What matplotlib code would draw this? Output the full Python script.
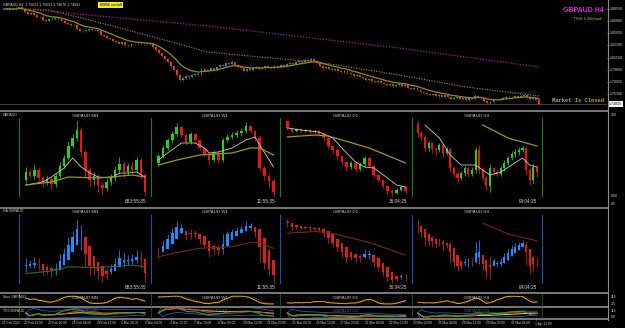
import numpy as np
import pandas as pd
import matplotlib
matplotlib.use("Agg")
import matplotlib.pyplot as plt

plt.rcParams['font.family'] = ['Liberation Sans', 'DejaVu Sans']

# ---------------- main H4 chart data ----------------
main_open0 = 1.8850
main_close = [
 1.8855, 1.8863, 1.8848, 1.8855, 1.8870, 1.8877, 1.8855, 1.8812, 1.8783, 1.8798, 1.8769, 1.8740, 1.8747, 1.8697, 1.8682, 1.8704, 1.8711, 1.8726, 1.8704, 1.8682,
 1.8654, 1.8639, 1.8618, 1.8625, 1.8567, 1.8538, 1.8531, 1.8546, 1.8560, 1.8546, 1.8553, 1.8538, 1.8481, 1.8459, 1.8437, 1.8423, 1.8394, 1.8380, 1.8358, 1.8373,
 1.8337, 1.8322, 1.8351, 1.8344, 1.8351, 1.8358, 1.8344, 1.8351, 1.8358, 1.8308, 1.8264, 1.8221, 1.8178, 1.8135, 1.8092, 1.8034, 1.7976, 1.7904, 1.7832, 1.7861,
 1.7890, 1.7875, 1.7904, 1.7919, 1.7904, 1.7991, 1.7962, 1.7976, 1.8005, 1.7976, 1.8020, 1.8048, 1.8034, 1.8077, 1.8063, 1.8092, 1.8048, 1.8020, 1.8005, 1.7962,
 1.7991, 1.7976, 1.8005, 1.8020, 1.7991, 1.8005, 1.8034, 1.8020, 1.8005, 1.8034, 1.8020, 1.8048, 1.8034, 1.8063, 1.8077, 1.8063, 1.8092, 1.8106, 1.8092, 1.8120,
 1.8106, 1.8135, 1.8106, 1.8077, 1.8034, 1.8005, 1.8020, 1.7991, 1.7976, 1.7991, 1.7962, 1.7948, 1.7962, 1.7933, 1.7919, 1.7890, 1.7904, 1.7875, 1.7861, 1.7832,
 1.7847, 1.7818, 1.7803, 1.7818, 1.7789, 1.7775, 1.7760, 1.7775, 1.7746, 1.7760, 1.7775, 1.7746, 1.7760, 1.7717, 1.7703, 1.7717, 1.7688, 1.7659, 1.7645, 1.7631,
 1.7616, 1.7623, 1.7602, 1.7616, 1.7594, 1.7609, 1.7587, 1.7558, 1.7573, 1.7580, 1.7558, 1.7573, 1.7544, 1.7566, 1.7558, 1.7602, 1.7587, 1.7573, 1.7530, 1.7501,
 1.7515, 1.7544, 1.7537, 1.7558, 1.7573, 1.7587, 1.7594, 1.7587, 1.7602, 1.7587, 1.7602, 1.7609, 1.7587, 1.7558, 1.7573, 1.7544, 1.7483]
main_wick_up = [
 12, 8, 15, 10, 22, 9, 14, 10, 18, 12, 9, 16, 11, 20, 8, 13, 25, 10, 12, 9,
 14, 11, 8, 17, 12, 10, 15, 9, 13, 11, 16, 10, 12, 8, 14, 19, 10, 13, 9, 12,
 11, 15, 8, 10, 13, 9, 12, 14, 10, 16, 12, 18, 10, 14, 20, 12, 16, 22, 15, 30,
 18, 12, 20, 14, 10, 24, 15, 12, 18, 13, 16, 11, 20, 14, 12, 26, 10, 15, 12, 18,
 11, 14, 16, 10, 13, 18, 12, 9, 15, 11, 14, 10, 16, 12, 9, 13, 15, 11, 18, 12,
 14, 20, 10, 13, 9, 15, 12, 10, 14, 11, 16, 9, 12, 13, 10, 15, 11, 14, 9, 12,
 10, 16, 11, 13, 9, 14, 12, 10, 15, 11, 13, 9, 12, 10, 14, 11, 9, 13, 12, 10,
 15, 11, 9, 14, 12, 10, 13, 16, 11, 9, 14, 12, 10, 15, 11, 30, 13, 10, 12, 9,
 14, 11, 13, 10, 12, 9, 28, 11, 14, 10, 12, 13, 9, 11, 10, 12, 9]
main_wick_dn = [
 10, 14, 9, 12, 8, 16, 11, 20, 12, 9, 15, 10, 13, 11, 18, 9, 12, 10, 14, 16,
 11, 9, 13, 10, 18, 12, 9, 14, 11, 10, 13, 8, 15, 12, 10, 11, 14, 9, 12, 16,
 10, 12, 9, 14, 11, 10, 13, 9, 15, 12, 18, 14, 20, 16, 12, 22, 18, 25, 35, 20,
 15, 22, 12, 18, 14, 12, 16, 10, 13, 15, 11, 14, 12, 10, 16, 12, 14, 11, 18, 13,
 10, 15, 12, 14, 11, 9, 13, 16, 10, 12, 14, 11, 9, 13, 10, 15, 12, 11, 14, 10,
 12, 9, 15, 18, 14, 11, 16, 12, 13, 10, 14, 12, 11, 15, 10, 13, 12, 14, 11, 15,
 12, 10, 14, 16, 11, 13, 10, 15, 12, 14, 11, 16, 13, 12, 15, 10, 14, 12, 18, 13,
 11, 15, 12, 14, 10, 16, 12, 11, 13, 15, 10, 14, 12, 16, 11, 13, 10, 14, 22, 18,
 12, 15, 11, 13, 10, 14, 12, 11, 13, 10, 15, 12, 14, 11, 13, 12, 15]
ma50_idx = [7, 15, 32, 48, 67, 84, 103, 130, 152, 176]
ma50_val = [1.8855, 1.8841, 1.8654, 1.8466, 1.8236, 1.8164, 1.8092, 1.7904, 1.7731, 1.7602]
ma200_idx = [10, 67, 130, 176]
ma200_val = [1.8841, 1.8610, 1.8293, 1.8020]
price_ticks = [1.8855, 1.8680, 1.8505, 1.8330, 1.8155, 1.7980, 1.7805, 1.7630]
date_idx = [0, 7, 15, 23, 31, 39, 47, 55, 63, 71, 79, 87, 95, 103, 111, 119, 127, 135, 143, 151, 159, 167, 175]
date_labels = ["21 Feb 2022", "22 Feb 12:00", "23 Feb 20:00", "25 Feb 04:00", "28 Feb 12:00", "1 Mar 20:00",
               "3 Mar 04:00", "4 Mar 12:00", "7 Mar 20:00", "9 Mar 04:00", "10 Mar 12:00", "11 Mar 20:00",
               "15 Mar 04:00", "16 Mar 12:00", "17 Mar 20:00", "21 Mar 04:00", "22 Mar 12:00", "23 Mar 20:00",
               "25 Mar 04:00", "28 Mar 12:00", "29 Mar 20:00", "31 Mar 04:00", "1 Apr 12:00"]

# ---------------- multi-timeframe sub-windows ----------------
tf_names = ["GBPAUD MN", "GBPAUD W1", "GBPAUD D1", "GBPAUD H4"]
tf_timers = ["683:55:35", "11:55:35", "36:04:25", "04:04:25"]

mn_open0 = 27
mn_close = [35, 31, 37, 29, 25, 28, 23, 31, 41, 49, 61, 69, 77, 55, 37, 27, 31, 22, 19, 25, 29, 37, 43, 35, 41, 37, 47, 32, 15]
mn_high = [40, 38, 42, 40, 31, 32, 30, 34, 45, 52, 66, 73, 86, 80, 57, 40, 35, 33, 25, 28, 33, 41, 50, 46, 44, 45, 50, 49, 34]
mn_low = [24, 29, 28, 26, 20, 22, 18, 20, 29, 39, 47, 59, 66, 50, 30, 20, 22, 15, 12, 16, 22, 26, 34, 30, 32, 33, 34, 28, 11]
mn_fast_idx = [0, 4, 6, 9, 11, 13, 15, 17, 20, 22, 24, 26, 28]
mn_fast_val = [22, 25, 30, 39, 49, 40, 34, 30, 29, 34, 34, 35, 30]
mn_slow_idx = [0, 6, 10, 17, 25, 28]
mn_slow_val = [22, 25, 30, 29, 32, 30]

w1_open0 = 44
w1_close = [51, 59, 67, 73, 80, 72, 65, 73, 67, 59, 53, 47, 54, 47, 67, 70, 72, 74, 76, 81, 76, 69, 39, 31, 26, 15]
w1_high = [53, 62, 69, 76, 84, 81, 73, 75, 74, 68, 60, 55, 57, 56, 69, 73, 75, 77, 79, 85, 82, 77, 72, 42, 33, 29]
w1_low = [41, 49, 57, 64, 71, 70, 62, 63, 64, 57, 51, 42, 45, 44, 45, 65, 68, 69, 71, 74, 74, 66, 36, 27, 20, 11]
w1_fast_idx = [0, 2, 5, 8, 10, 11, 13, 16, 19, 21, 22, 25]
w1_fast_val = [47, 54, 64, 64, 59, 54, 55, 59, 67, 70, 62, 40]
w1_slow_idx = [0, 4, 9, 16, 20, 22, 25]
w1_slow_val = [42, 47, 52, 54, 59, 59, 52]

d1_open0 = 86
d1_close = [79, 76, 78, 76, 77, 75, 76, 73, 69, 61, 57, 51, 45, 40, 44, 38, 43, 49, 41, 32, 27, 21, 16, 14, 17, 20, 16]
d1_high = [87, 80, 79, 79, 78, 78, 77, 77, 74, 70, 62, 58, 52, 46, 46, 45, 45, 51, 50, 42, 33, 28, 22, 18, 19, 22, 21]
d1_low = [77, 74, 75, 74, 75, 73, 74, 71, 66, 58, 53, 48, 42, 36, 38, 35, 36, 40, 39, 30, 25, 19, 13, 11, 13, 16, 13]
d1_fast_idx = [0, 3, 7, 10, 12, 15, 17, 19, 22, 24, 26]
d1_fast_val = [79, 77, 75, 69, 59, 45, 40, 39, 29, 22, 20]
d1_slow_idx = [0, 6, 9, 18, 26]
d1_slow_val = [70, 72, 71, 59, 44]

h4_open0 = 83
h4_close = [74, 70, 59, 64, 58, 57, 62, 54, 58, 39, 33, 29, 34, 39, 33, 37, 57, 37, 29, 21, 39, 35, 33, 39, 44, 49, 53, 55, 57, 59, 37, 27, 40, 35]
h4_high = [86, 76, 72, 66, 65, 60, 64, 63, 60, 59, 41, 36, 36, 41, 40, 40, 60, 62, 40, 31, 43, 40, 37, 41, 47, 51, 56, 58, 60, 62, 61, 40, 43, 42]
h4_low = [70, 66, 55, 56, 54, 52, 55, 50, 52, 35, 30, 25, 27, 31, 30, 31, 34, 33, 26, 17, 15, 32, 30, 31, 36, 42, 47, 50, 52, 55, 32, 22, 24, 30]
h4_fast_idx = [2, 6, 9, 12, 16, 20, 23, 26, 29, 31, 33]
h4_fast_val = [82, 69, 52, 42, 42, 32, 35, 42, 49, 42, 40]
h4_slow_idx = [18, 25, 29, 33]
h4_slow_val = [82, 69, 65, 61]

# ---------------- layout helpers ----------------
W, H = 625, 328
fig = plt.figure(figsize=(W / 100, H / 100), dpi=100, facecolor='black')
SUB_X = [(19, 151), (151, 280), (280, 412), (412, 542)]


def px_axes(x0, y0, x1, y1, z=1):
    ax = fig.add_axes([x0 / W, 1 - y1 / H, (x1 - x0) / W, (y1 - y0) / H], zorder=z)
    ax.set_facecolor('none')
    ax.set_axis_off()
    return ax


def draw_candles(ax, o, h, l, c, width, up_body, dn_body, up_wick, dn_wick, lw=0.5, minh=0.0):
    o, h, l, c = (np.asarray(a, dtype=float) for a in (o, h, l, c))
    x = np.arange(len(c))
    up = c >= o
    h = np.maximum(h, np.maximum(o, c))
    l = np.minimum(l, np.minimum(o, c))
    ax.vlines(x, l, h, colors=[up_wick if u else dn_wick for u in up], linewidth=lw)
    body = np.maximum(np.abs(c - o), minh)
    ax.bar(x, body, bottom=np.minimum(o, c), width=width,
           color=[up_body if u else dn_body for u in up], linewidth=0)


def heikin_ashi(o, h, l, c):
    o, h, l, c = (np.asarray(a, dtype=float) for a in (o, h, l, c))
    hc = (o + h + l + c) / 4
    ho = np.empty_like(hc)
    ho[0] = (o[0] + c[0]) / 2
    for i in range(1, len(c)):
        ho[i] = (ho[i - 1] + hc[i - 1]) / 2
    hh = np.maximum(h, np.maximum(ho, hc))
    hl = np.minimum(l, np.minimum(ho, hc))
    return ho, hh, hl, hc


# ---------------- main chart ----------------
mc = np.array(main_close)
mo = np.concatenate([[main_open0], mc[:-1]])
mh = np.maximum(mo, mc) + np.array(main_wick_up) / 10000
ml = np.minimum(mo, mc) - np.array(main_wick_dn) / 10000

axm = px_axes(0, 0, 607, 109, z=2)
axm.set_xlim(-1.22, 198.3)
axm.set_ylim(1.7414, 1.8985)
axm.axhline(mc[-1], color='#4a4a4a', lw=0.6, zorder=0)
draw_candles(axm, mo, mh, ml, mc, 0.62, '#2f86d6', '#f0401e', '#1f8f3f', '#b02a14', lw=0.45, minh=0.00035)
ema = pd.Series(mc).ewm(span=10, adjust=False).mean()
axm.plot(np.arange(len(mc)), ema, color='#8f8f12', lw=0.9, zorder=3)
axm.plot(ma50_idx, ma50_val, color='#b8860b', lw=0.8, ls=(0, (1, 1.3)), zorder=3)
axm.plot(ma200_idx, ma200_val, color='#8e2a8e', lw=0.9, ls=(0, (1, 1.3)), zorder=3)

ytr = axm.get_yaxis_transform()
for p in price_ticks:
    axm.text(1.005, p, f"{p:.5f}", transform=ytr, fontsize=2.6, color='#d0d0d0',
             va='center', ha='left', clip_on=False)
    axm.plot([1.0, 1.004], [p, p], transform=ytr, color='#909090', lw=0.4, clip_on=False)
axm.text(1.003, mc[-1] + 0.0006, f"{mc[-1]:.5f}", transform=ytr, fontsize=2.6, color='black',
         va='center', ha='left', clip_on=False,
         bbox=dict(boxstyle='square,pad=0.2', fc='white', ec='none'))

# ---------------- panel 2 (candles) and panel 3 (Heikin Ashi) ----------------
tf_data = [
    (mn_open0, mn_close, mn_high, mn_low, mn_fast_idx, mn_fast_val, mn_slow_idx, mn_slow_val, '#2b6e2b'),
    (w1_open0, w1_close, w1_high, w1_low, w1_fast_idx, w1_fast_val, w1_slow_idx, w1_slow_val, '#7a2222'),
    (d1_open0, d1_close, d1_high, d1_low, d1_fast_idx, d1_fast_val, d1_slow_idx, d1_slow_val, '#7a2222'),
    (h4_open0, h4_close, h4_high, h4_low, h4_fast_idx, h4_fast_val, h4_slow_idx, h4_slow_val, '#7a2222'),
]

for (x0, x1), (o0, c, h, l, fi, fv, si, sv, hacol), name, timer in zip(SUB_X, tf_data, tf_names, tf_timers):
    c = np.array(c, dtype=float)
    o = np.concatenate([[o0], c[:-1]])
    h = np.array(h, dtype=float)
    l = np.array(l, dtype=float)
    n = len(c)
    # panel 2
    ax2 = px_axes(x0, 111, x1, 207, z=2)
    ax2.set_xlim(-1.6, n + 0.4)
    ax2.set_ylim(0, 96)
    draw_candles(ax2, o, h, l, c, 0.58, '#1fd21f', '#ee1414', '#1fd21f', '#ee1414', lw=0.55, minh=0.6)
    ax2.plot(fi, fv, color='#c8c8c8', lw=0.6, zorder=3)
    ax2.plot(si, sv, color='#9a9a12', lw=0.9, zorder=3)
    # panel 3
    ax3 = px_axes(x0, 208, x1, 292, z=2)
    ax3.set_xlim(-1.6, n + 0.4)
    ax3.set_ylim(0, 100)
    ho, hh, hl, hc = heikin_ashi(o, h, l, c)
    draw_candles(ax3, ho, hh, hl, hc, 0.58, '#1e8cff', '#d42222', '#1e8cff', '#d42222', lw=0.55, minh=0.6)
    ax3.plot(si, sv, color=hacol, lw=0.8, zorder=3)
    # stochastic strip
    axs = px_axes(x0, 294, x1, 306, z=2)
    axs.set_xlim(-1.6, n + 0.4)
    axs.set_ylim(-15, 115)
    hh5 = pd.Series(h).rolling(5, min_periods=1).max()
    ll5 = pd.Series(l).rolling(5, min_periods=1).min()
    k = (100 * (c - ll5) / (hh5 - ll5 + 1e-9)).rolling(3, min_periods=1).mean()
    d = k.rolling(3, min_periods=1).mean()
    for lev in (20, 80):
        axs.axhline(lev, color='#6a6a6a', lw=0.35, ls=(0, (1, 1.5)))
    axs.plot(np.arange(n), k, color='#c8c814', lw=0.7)
    axs.plot(np.arange(n), d, color='#e02020', lw=0.7, ls=(0, (1, 2)))
    # TDI strip
    axt = px_axes(x0, 308, x1, 318, z=2)
    axt.set_xlim(-1.6, n + 0.4)
    axt.set_ylim(5, 95)
    delta = pd.Series(c).diff().fillna(0)
    gain = delta.clip(lower=0).ewm(alpha=1 / 8, adjust=False).mean()
    loss = (-delta).clip(lower=0).ewm(alpha=1 / 8, adjust=False).mean()
    rsi = (100 - 100 / (1 + gain / (loss + 1e-9))).fillna(50)
    rsi.iloc[0] = 50
    green = rsi.rolling(2, min_periods=1).mean()
    red = rsi.rolling(7, min_periods=1).mean()
    base = rsi.rolling(20, min_periods=1).mean()
    sd = rsi.rolling(20, min_periods=2).std().fillna(0)
    xi = np.arange(n)
    axt.plot(xi, base + 1.6 * sd, color='#1e5ac8', lw=0.6)
    axt.plot(xi, base - 1.6 * sd, color='#1e5ac8', lw=0.6)
    axt.plot(xi, base, color='#e8e800', lw=0.7)
    axt.plot(xi, red, color='#e02020', lw=0.7)
    axt.plot(xi, green, color='#20b020', lw=0.7)

# ---------------- date axis ----------------
axd = px_axes(0, 318, 607, 328, z=2)
axd.set_xlim(-1.22, 198.3)
axd.set_ylim(1, 0)
for i, lab in zip(date_idx, date_labels):
    axd.plot([i, i], [0.0, 0.22], color='#9a9a9a', lw=0.4)
    axd.text(i - 0.4, 0.55, lab, fontsize=2.3, color='#d0d0d0', ha='left', va='center',
             family=['Liberation Sans Narrow', 'Liberation Sans', 'DejaVu Sans'])

# ---------------- overlay: separators and texts ----------------
ov = fig.add_axes([0, 0, 1, 1], zorder=10)
ov.set_xlim(0, W)
ov.set_ylim(H, 0)
ov.set_axis_off()
ov.patch.set_alpha(0)

for yy in (110.5, 207.5, 292.5, 307.2, 318.5):
    ov.plot([0, 607.5], [yy, yy], color='#8c8c8c', lw=1.2)
ov.plot([607.5, 607.5], [0, 320], color='#8c8c8c', lw=0.8)

for xs in (19, 151, 280, 412, 542):
    ov.plot([xs, xs], [118, 196], color='#1e7a1e', lw=0.8)
    ov.plot([xs, xs], [215, 283], color='#1f4fa8', lw=0.8)
    ov.plot([xs, xs], [294, 306], color='#1a5a1a', lw=0.6)
    ov.plot([xs, xs], [308, 318], color='#1a5a1a', lw=0.6)

for (x0, x1), name, timer in zip(SUB_X, tf_names, tf_timers):
    cx = (x0 + x1) / 2
    ov.text(cx, 116, name, fontsize=3.2, color='#c8c8c8', ha='center', va='center')
    ov.text(cx, 212, name, fontsize=3.2, color='#c8c8c8', ha='center', va='center')
    ov.text(cx, 298, name, fontsize=3.2, color='#bdbdbd', ha='center', va='center')
    ov.text(cx, 311, name, fontsize=3.2, color='#5a5a5a', ha='center', va='center')
    ov.text(x1 - 5, 201.5, timer, fontsize=3.4, color='#d8d8d8', ha='right', va='center')
    ov.text(x1 - 5, 287.5, timer, fontsize=3.4, color='#d8d8d8', ha='right', va='center')

ov.text(3, 115, "GBPAUD", fontsize=2.6, color='#d0d0d0', ha='left', va='center')
ov.text(3, 211.5, "HA GBPAUD", fontsize=2.6, color='#d0d0d0', ha='left', va='center')
ov.text(3, 297.5, "Stoc GBPAUD", fontsize=2.6, color='#d0d0d0', ha='left', va='center')
ov.text(3, 311, "TDI GBPAUD", fontsize=2.6, color='#d0d0d0', ha='left', va='center')

for txt, yy in (("168", 115), ("0.00", 196), ("-85", 204), ("115", 297.5), ("-15", 304), ("115", 310.5), ("0.0", 316.5)):
    ov.text(611, yy, txt, fontsize=2.5, color='#d0d0d0', ha='left', va='center')

# main chart decorations
ov.text(3, 4.3, "GBPAUD,H4  1.75621 1.75691 1.74676 1.74831", fontsize=2.6, color='#d0d0d0',
        ha='left', va='center')
ov.text(110.5, 5.2, "8/9/56 sec/all", fontsize=2.5, color='#1a2ad0', ha='center', va='center',
        fontweight='bold', bbox=dict(boxstyle='square,pad=0.35', fc='#f5f000', ec='none'))
ov.text(604, 10.5, "GBPAUD H4", fontsize=5.0, color='#e020e0', fontweight='bold', ha='right', va='center')
ov.text(603, 19.5, '"TMS 5-Method"', fontsize=3.1, color='#c0a818', ha='right', va='center')
ov.text(537, 93, "Copyright\u00a92015", fontsize=2.9, color='#3a3a3a', ha='right', va='center')
ov.text(604, 101, "Market Is Closed", fontsize=4.0, color='#b8a828', ha='right', va='center',
        family=['Liberation Mono', 'DejaVu Sans Mono'], fontweight='bold')

fig.savefig("out.png", dpi=100, facecolor='black')
